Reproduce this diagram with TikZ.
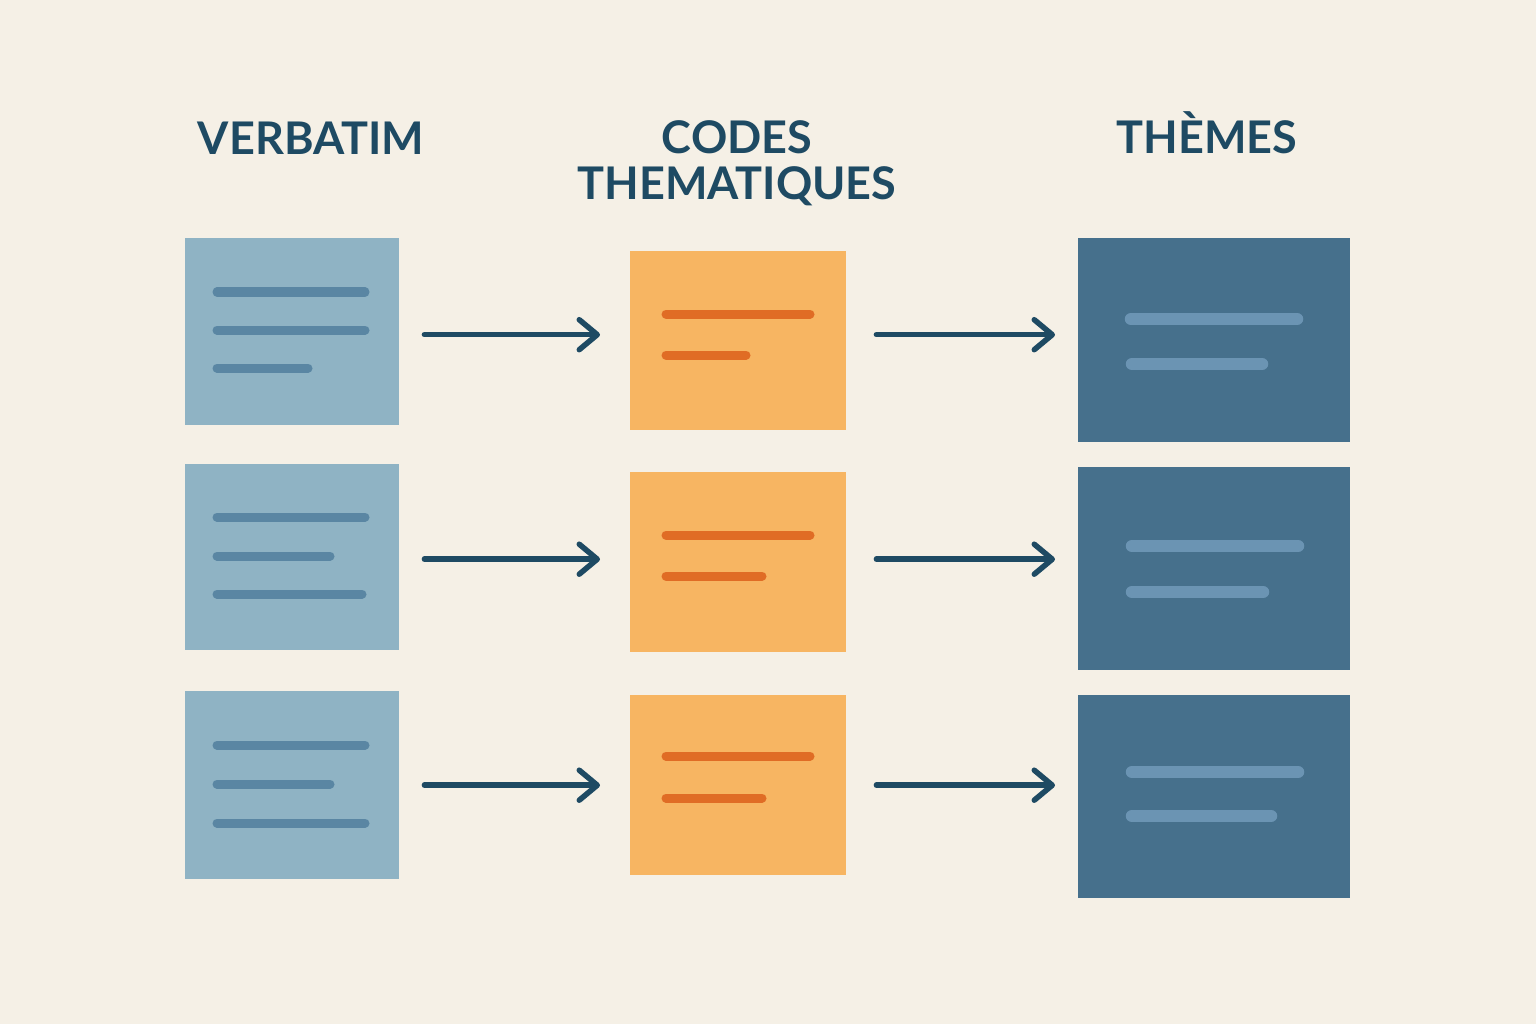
\documentclass[tikz,border=0pt]{standalone}
\usepackage{fontspec}
\setmainfont{Lato}
\usetikzlibrary{arrows.meta}
\definecolor{bg}{HTML}{F5F0E6}
\definecolor{ink}{HTML}{1E4A63}
\definecolor{lbox}{HTML}{8FB3C4}
\definecolor{lline}{HTML}{5A86A3}
\definecolor{obox}{HTML}{F7B562}
\definecolor{oline}{HTML}{E06C25}
\definecolor{dbox}{HTML}{46708C}
\definecolor{dline}{HTML}{6B94B3}
\tikzset{
  title/.style={text=ink, font=\bfseries\fontsize{45}{52}\selectfont, align=center, inner sep=0pt},
  card/.style={anchor=north west, inner sep=0pt, draw=none},
  arr/.style={draw=ink, line width=5.5pt, line cap=round, -{Straight Barb[length=18pt,width=30pt,round]}},
  lbar/.style={draw=lline, line width=9pt, line cap=round},
  obar/.style={draw=oline, line width=9pt, line cap=round},
  dbar/.style={draw=dline, line width=12.5pt, line cap=round},
}
\begin{document}
\begin{tikzpicture}[x=1pt,y=-1pt]
\fill[bg] (0,0) rectangle (1536,1024);
\useasboundingbox (0,0) rectangle (1536,1024);
% titles
\node[title, anchor=base] (t1) at (311,155) {VERBATIM};
\node[title, text width=400pt] (t2) at (737,163) {CODES\\[-6pt]THEMATIQUES};
\node[title, anchor=base] (t3) at (1207,154) {THÈMES};
% left cards
\node[card, fill=lbox, minimum width=214pt, minimum height=187pt] (v1) at (185,238) {};
\node[card, fill=lbox, minimum width=214pt, minimum height=186pt] (v2) at (185,464) {};
\node[card, fill=lbox, minimum width=214pt, minimum height=188pt] (v3) at (185,691) {};
% middle cards
\node[card, fill=obox, minimum width=216pt, minimum height=179pt] (c1) at (630,251) {};
\node[card, fill=obox, minimum width=216pt, minimum height=180pt] (c2) at (630,472) {};
\node[card, fill=obox, minimum width=216pt, minimum height=180pt] (c3) at (630,695) {};
% right cards
\node[card, fill=dbox, minimum width=272pt, minimum height=204pt] (h1) at (1078,238) {};
\node[card, fill=dbox, minimum width=272pt, minimum height=203pt] (h2) at (1078,467) {};
\node[card, fill=dbox, minimum width=272pt, minimum height=203pt] (h3) at (1078,695) {};
% bars left
\draw[lbar] (217,292) -- (365,292);
\draw[lbar] (217,330) -- (365,330);
\draw[lbar] (217,368) -- (308,368);
\draw[lbar] (217,517) -- (365,517);
\draw[lbar] (217,556) -- (330,556);
\draw[lbar] (217,594) -- (362,594);
\draw[lbar] (217,745) -- (365,745);
\draw[lbar] (217,784) -- (330,784);
\draw[lbar] (217,823) -- (365,823);
% bars middle
\draw[obar] (666,314) -- (810,314);
\draw[obar] (666,355) -- (746,355);
\draw[obar] (666,535) -- (810,535);
\draw[obar] (666,576) -- (762,576);
\draw[obar] (666,756) -- (810,756);
\draw[obar] (666,798) -- (762,798);
% bars right
\draw[dbar] (1131,319) -- (1297,319);
\draw[dbar] (1132,364) -- (1262,364);
\draw[dbar] (1132,546) -- (1298,546);
\draw[dbar] (1132,592) -- (1263,592);
\draw[dbar] (1132,772) -- (1298,772);
\draw[dbar] (1132,816) -- (1271,816);
% arrows
\draw[arr] ([xshift=25pt,yshift=-3pt]v1.east) -- ([xshift=-30pt,yshift=-3pt]v1.east -| c1.west);
\draw[arr] ([xshift=25pt,yshift=-2pt]v2.east) -- ([xshift=-30pt,yshift=-2pt]v2.east -| c2.west);
\draw[arr] ([xshift=25pt]v3.east) -- ([xshift=-30pt]v3.east -| c3.west);
\draw[arr] ([xshift=30pt,yshift=6pt]c1.east) -- ([xshift=-23pt,yshift=6pt]c1.east -| h1.west);
\draw[arr] ([xshift=30pt,yshift=3pt]c2.east) -- ([xshift=-23pt,yshift=3pt]c2.east -| h2.west);
\draw[arr] ([xshift=30pt]c3.east) -- ([xshift=-23pt]c3.east -| h3.west);
\end{tikzpicture}
\end{document}
